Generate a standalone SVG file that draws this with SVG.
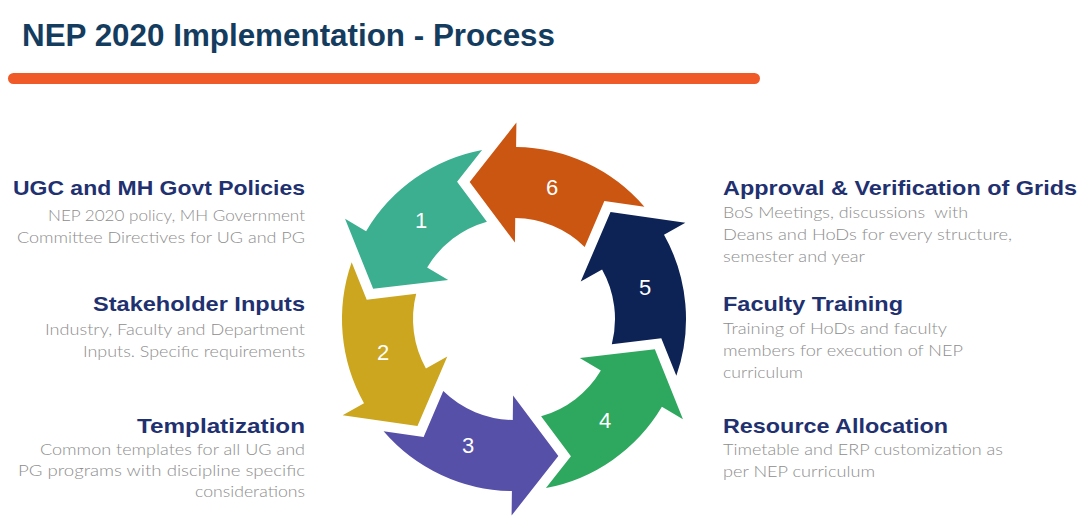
<svg xmlns="http://www.w3.org/2000/svg" width="1080" height="520" viewBox="0 0 1080 520">
  <defs>
    <style>
      .title { font-family: "Liberation Sans", Arial, sans-serif; font-weight: 700; font-size: 31px; fill: #143C5E; }
      .head { font-family: "Liberation Sans", Arial, sans-serif; font-weight: 700; font-size: 21px; fill: #1F3170; }
      .body { font-family: "Lato", "Liberation Sans", Arial, sans-serif; font-weight: 300; font-size: 15px; fill: #8E8E8E; white-space: pre; }
      .num { font-family: "Liberation Sans", Arial, sans-serif; font-weight: 400; font-size: 22px; fill: #FFFFFF; text-anchor: middle; }
    </style>
    <path id="arrowShape" d="M168.61,-33.99 A172,172 0 0 0 86,-148.96 L98.25,-170.17 L28.41,-141.21 L38.25,-66.25 L50.5,-87.47 A101,101 0 0 1 96.96,-28.29 L136.5,-58.6 Z"/>
  </defs>
  <rect x="0" y="0" width="1080" height="520" fill="#FFFFFF"/>

  <g id="title">
    <text class="title" x="22" y="46" textLength="533" lengthAdjust="spacingAndGlyphs">NEP 2020 Implementation - Process</text>
    <rect x="8" y="73" width="752" height="11" rx="5.5" fill="#EF5A28"/>
  </g>

  <g id="connectors"></g>

  <g id="cycle" transform="translate(514,319)">
    <g id="node-arrow1"><use href="#arrowShape" transform="rotate(-89.3)" fill="#3BAF8F"/></g>
    <g id="node-arrow2"><use href="#arrowShape" transform="rotate(-149.3)" fill="#CBA61E"/></g>
    <g id="node-arrow3"><use href="#arrowShape" transform="rotate(-209.3)" fill="#5650A8"/></g>
    <g id="node-arrow4"><use href="#arrowShape" transform="rotate(-269.3)" fill="#2EA85F"/></g>
    <g id="node-arrow5"><use href="#arrowShape" transform="rotate(-329.3)" fill="#0D2255"/></g>
    <g id="node-arrow6"><use href="#arrowShape" transform="rotate(-29.3)" fill="#CB5612"/></g>
  </g>

  <g id="numbers">
    <text class="num" x="421" y="228">1</text>
    <text class="num" x="383" y="360">2</text>
    <text class="num" x="468" y="453">3</text>
    <text class="num" x="605" y="428">4</text>
    <text class="num" x="645" y="295">5</text>
    <text class="num" x="552" y="195">6</text>
  </g>

  <g id="node-ugc">
    <text class="head" x="13" y="195" textLength="292" lengthAdjust="spacingAndGlyphs">UGC and MH Govt Policies</text>
    <text class="body" x="48" y="221" textLength="257" lengthAdjust="spacingAndGlyphs">NEP 2020 policy, MH Government</text>
    <text class="body" x="17" y="243" textLength="288" lengthAdjust="spacingAndGlyphs">Committee Directives for UG and PG</text>
  </g>
  <g id="node-stakeholder">
    <text class="head" x="93" y="311" textLength="212" lengthAdjust="spacingAndGlyphs">Stakeholder Inputs</text>
    <text class="body" x="45" y="335" textLength="260" lengthAdjust="spacingAndGlyphs">Industry, Faculty and Department</text>
    <text class="body" x="83" y="357" textLength="222" lengthAdjust="spacingAndGlyphs">Inputs. Specific requirements</text>
  </g>
  <g id="node-templatization">
    <text class="head" x="137" y="433" textLength="168" lengthAdjust="spacingAndGlyphs">Templatization</text>
    <text class="body" x="40" y="455" textLength="265" lengthAdjust="spacingAndGlyphs">Common templates for all UG and</text>
    <text class="body" x="18" y="476" textLength="287" lengthAdjust="spacingAndGlyphs">PG programs with discipline specific</text>
    <text class="body" x="195" y="497" textLength="110" lengthAdjust="spacingAndGlyphs">considerations</text>
  </g>
  <g id="node-approval">
    <text class="head" x="723" y="195" textLength="354" lengthAdjust="spacingAndGlyphs">Approval &amp; Verification of Grids</text>
    <text class="body" x="723" y="218" textLength="245" lengthAdjust="spacingAndGlyphs">BoS Meetings, discussions  with</text>
    <text class="body" x="723" y="240" textLength="289" lengthAdjust="spacingAndGlyphs">Deans and HoDs for every structure,</text>
    <text class="body" x="723" y="262" textLength="142" lengthAdjust="spacingAndGlyphs">semester and year</text>
  </g>
  <g id="node-training">
    <text class="head" x="723" y="311" textLength="180" lengthAdjust="spacingAndGlyphs">Faculty Training</text>
    <text class="body" x="723" y="334" textLength="224" lengthAdjust="spacingAndGlyphs">Training of HoDs and faculty</text>
    <text class="body" x="723" y="356" textLength="240" lengthAdjust="spacingAndGlyphs">members for execution of NEP</text>
    <text class="body" x="723" y="378" textLength="80" lengthAdjust="spacingAndGlyphs">curriculum</text>
  </g>
  <g id="node-resource">
    <text class="head" x="723" y="433" textLength="225" lengthAdjust="spacingAndGlyphs">Resource Allocation</text>
    <text class="body" x="723" y="455" textLength="280" lengthAdjust="spacingAndGlyphs">Timetable and ERP customization as</text>
    <text class="body" x="723" y="477" textLength="152" lengthAdjust="spacingAndGlyphs">per NEP curriculum</text>
  </g>
</svg>
